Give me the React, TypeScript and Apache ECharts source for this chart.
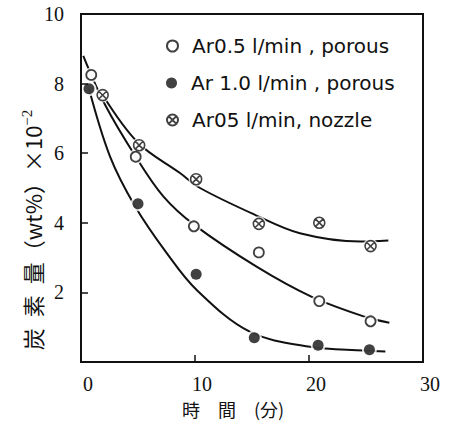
import React, { useEffect, useRef } from "react";
import * as echarts from "echarts";

// Measured points
const openX = [0.9, 4.8, 9.9, 15.6, 20.9, 25.4];
const openY = [8.25, 5.9, 3.9, 3.15, 1.75, 1.17];
const filledX = [0.7, 5.0, 10.1, 15.2, 20.8, 25.3];
const filledY = [7.85, 4.55, 2.52, 0.7, 0.48, 0.35];
const crossX = [1.9, 5.1, 10.1, 15.6, 20.9, 25.4];
const crossY = [7.67, 6.23, 5.25, 3.97, 4.0, 3.33];

// Hand-drawn fitted curves
const openCurveX = [0.2, 2.1, 4.8, 7.22, 9.94, 15.4, 20.2, 24.9, 27.05];
const openCurveY = [8.8, 7.4, 5.9, 4.76, 3.94, 2.74, 1.88, 1.3, 1.13];
const filledCurveX = [0.7, 2.54, 4.75, 7.52, 10.15, 14.8, 20.1, 24.8, 26.7];
const filledCurveY = [7.85, 5.91, 4.47, 3.13, 2.07, 0.87, 0.44, 0.33, 0.3];
const crossCurveX = [1.9, 5.0, 8.68, 10.44, 15.26, 19.2, 24.5, 26.96];
const crossCurveY = [7.67, 6.3, 5.43, 5.0, 4.23, 3.7, 3.46, 3.49];

const seriesNames = ["Ar0.5 l/min , porous", "Ar 1.0 l/min , porous", "Ar05 l/min, nozzle"];
const legendTops = [36, 73, 110];

const xTickValues = [0, 10, 20, 30];
const yTickValues = [0, 2, 4, 6, 8, 10];

const yName = "炭\u2002素\u2002量（wt%）×10";
const ySup = "−2";
const xName = "時　間　(分)";

const zip = (xs: number[], ys: number[]) => xs.map((x, i) => [x, ys[i]]);

const crossPath =
  "path://M10,0A10,10,0,1,1,10,20A10,10,0,1,1,10,0ZM2.93,2.93L17.07,17.07M17.07,2.93L2.93,17.07";

export default function App() {
  const ref = useRef<HTMLDivElement>(null);
  useEffect(() => {
    if (!ref.current) return;
    const chart = echarts.init(ref.current, undefined, { renderer: "svg" });
    const black = "#111";
    const lineStyle = { color: black, width: 2 };
    const curve = (name: string, xs: number[], ys: number[]) => ({
      name,
      type: "line",
      data: zip(xs, ys),
      smooth: 0.35,
      symbol: "none",
      showSymbol: false,
      lineStyle,
      z: 2,
      silent: true,
    });
    const allPts = [...zip(openX, openY), ...zip(filledX, filledY), ...zip(crossX, crossY)];
    chart.setOption({
      animation: false,
      backgroundColor: "#fff",
      grid: {
        left: 81,
        right: 33,
        top: 14,
        bottom: 61,
        show: true,
        borderColor: black,
        borderWidth: 2,
        backgroundColor: "transparent",
      },
      legend: seriesNames.map((n, i) => ({
        data: [n],
        left: 166,
        top: legendTops[i],
        padding: 0,
        itemWidth: 11,
        itemHeight: 11,
        selectedMode: false,
        textStyle: {
          fontFamily: "DejaVu Sans",
          fontSize: 20,
          color: black,
          lineHeight: 20,
          padding: [0, 0, 0, 9],
        },
      })),
      xAxis: {
        type: "value",
        min: xTickValues[0],
        max: xTickValues[xTickValues.length - 1],
        interval: 10,
        z: 10,
        splitLine: { show: false },
        axisLine: { show: true, lineStyle: { color: black, width: 2 } },
        axisTick: { show: true, inside: true, length: 7, lineStyle: { color: black, width: 1.5 } },
        axisLabel: {
          margin: 12,
          fontFamily: "Liberation Serif",
          fontSize: 20,
          lineHeight: 20,
          color: black,
          padding: [0, 0, 0, 14],
        },
      },
      yAxis: {
        type: "value",
        min: yTickValues[0],
        max: yTickValues[yTickValues.length - 1],
        interval: 2,
        z: 10,
        splitLine: { show: false },
        axisLine: { show: true, lineStyle: { color: black, width: 2 } },
        axisTick: { show: true, inside: true, length: 7, lineStyle: { color: black, width: 1.5 } },
        axisLabel: {
          margin: 17,
          fontFamily: "Liberation Serif",
          fontSize: 20,
          color: black,
          showMinLabel: false,
        },
      },
      graphic: [
        {
          type: "text",
          x: 32,
          y: 230,
          rotation: Math.PI / 2,
          style: {
            text: "{m|" + yName + "}{s|" + ySup + "}",
            align: "center",
            verticalAlign: "middle",
            fill: black,
            rich: {
              m: { fontSize: 22, fontFamily: "Noto Sans CJK JP", lineHeight: 26, fill: black },
              s: {
                fontSize: 15,
                fontFamily: "Liberation Serif",
                lineHeight: 15,
                verticalAlign: "top",
                fill: black,
              },
            },
          },
        },
        {
          type: "text",
          x: 182,
          y: 409,
          style: {
            text: xName,
            fontSize: 18,
            lineHeight: 18,
            fontFamily: "Noto Sans CJK JP",
            align: "left",
            verticalAlign: "middle",
            fill: black,
          },
        },
      ],
      series: [
        curve("c1", openCurveX, openCurveY),
        curve("c2", filledCurveX, filledCurveY),
        curve("c3", crossCurveX, crossCurveY),
        {
          name: "halo",
          type: "scatter",
          data: allPts,
          symbol: "circle",
          symbolSize: 15,
          itemStyle: { color: "#fff" },
          silent: true,
          z: 3,
        },
        {
          name: seriesNames[0],
          type: "scatter",
          data: zip(openX, openY),
          symbol: "circle",
          symbolSize: 10,
          itemStyle: { color: "#fff", borderColor: black, borderWidth: 1.8 },
          z: 4,
        },
        {
          name: seriesNames[1],
          type: "scatter",
          data: zip(filledX, filledY),
          symbol: "circle",
          symbolSize: 11,
          itemStyle: { color: black, borderColor: black, borderWidth: 0 },
          z: 4,
        },
        {
          name: seriesNames[2],
          type: "scatter",
          data: zip(crossX, crossY),
          symbol: crossPath,
          symbolSize: 11,
          itemStyle: { color: "#fff", borderColor: black, borderWidth: 1.6 },
          z: 4,
        },
      ],
    });
    return () => chart.dispose();
  }, []);
  return (
    <div
      ref={ref}
      style={{ position: "absolute", left: 0, top: 0, width: 456, height: 423, background: "#fff" }}
    />
  );
}
